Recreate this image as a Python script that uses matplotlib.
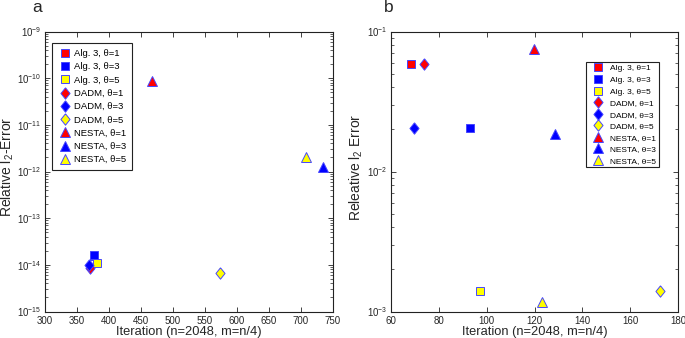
import numpy as np
import matplotlib
matplotlib.use("Agg")
import matplotlib.pyplot as plt

plt.rcParams['font.family'] = ['Liberation Sans', 'DejaVu Sans']
plt.rcParams['mathtext.fontset'] = 'custom'
plt.rcParams['mathtext.rm'] = 'Liberation Sans'
plt.rcParams['mathtext.it'] = 'Liberation Sans:italic'
plt.rcParams['mathtext.bf'] = 'Liberation Sans:bold'

# series labels (same order in both panels)
labels = ["Alg. 3, θ=1", "Alg. 3, θ=3", "Alg. 3, θ=5",
          "DADM, θ=1", "DADM, θ=3", "DADM, θ=5",
          "NESTA, θ=1", "NESTA, θ=3", "NESTA, θ=5"]

# panel a: n=2048, noiseless
iters_a = [376, 376, 381, 370, 369, 573, 467, 735, 709]
err_a = [1.55e-14, 1.6e-14, 1.1e-14, 8.4e-15, 1.0e-14, 6.7e-15, 8.8e-11, 1.25e-12, 2.0e-12]
xticks_a = [300, 350, 400, 450, 500, 550, 600, 650, 700, 750]

# panel b: n=2048, noisy
iters_b = [68.2, 92.9, 97.2, 74.0, 69.6, 172.5, 119.9, 128.6, 123.3]
err_b = [0.0586, 0.0206, 0.00141, 0.0586, 0.0206, 0.00141, 0.0754, 0.0184, 0.00117]
xticks_b = [60, 80, 100, 120, 140, 160, 180]

# matlab style diamond, a bit taller than wide
DIAMOND = [(0, 1), (0.8, 0), (0, -1), (-0.8, 0), (0, 1)]

FACE = ['#ff0000', '#0000ff', '#ffff00'] * 3
MARKERS = ['s'] * 3 + [DIAMOND] * 3 + ['^'] * 3
SIZES = [5.8] * 3 + [8.2] * 3 + [7.2] * 3
EDGE = '#4646ff'
TEXT = '#262626'


def draw_panel(ax, iters, errs, xticks):
    for x, y, lab, fc, m, ms in zip(iters, errs, labels, FACE, MARKERS, SIZES):
        ax.plot([x], [y], linestyle='none', marker=m, markersize=ms,
                markerfacecolor=fc, markeredgecolor=EDGE, markeredgewidth=0.7,
                label=lab)
    ax.set_yscale('log')
    ax.set_xticks(xticks)
    ax.set_xlim(xticks[0], xticks[-1])
    ax.tick_params(which='both', direction='in', top=True, right=True,
                   labelsize=7, colors='#222222', labelcolor=TEXT)
    ax.tick_params(axis='x', pad=3.5)
    ax.tick_params(axis='y', pad=2.5)
    ax.tick_params(which='major', length=3.5, width=0.6)
    ax.tick_params(which='minor', length=2, width=0.5)
    for s in ax.spines.values():
        s.set_linewidth(0.8)
        s.set_color('#222222')
    ax.set_xlabel("Iteration (n=2048, m=n/4)", fontsize=9.3, color=TEXT, labelpad=0)


fig = plt.figure(figsize=(6.85, 3.38), dpi=100)
ax_a = fig.add_axes([45 / 685, 26.5 / 338, 287.7 / 685, 280 / 338])
ax_b = fig.add_axes([391 / 685, 26.5 / 338, 287 / 685, 280 / 338])

draw_panel(ax_a, iters_a, err_a, xticks_a)
ax_a.set_ylim(1e-15, 1e-9)
ax_a.set_ylabel("Relative l$_2$-Error", fontsize=10, color=TEXT)
ax_a.yaxis.set_label_coords(-0.1, 0.516)
ax_a.legend(loc='upper left', bbox_to_anchor=(7 / 287.7, 1 - 11.5 / 280),
            borderaxespad=0, fontsize=6.8, numpoints=1, handlelength=1.4,
            handletextpad=0.3, labelspacing=0.45, borderpad=0.65,
            fancybox=False, edgecolor='#222222', framealpha=1)
ax_a.get_legend().get_frame().set_linewidth(0.8)

draw_panel(ax_b, iters_b, err_b, xticks_b)
ax_b.set_ylim(1e-3, 1e-1)
ax_b.set_ylabel("Releative l$_2$ Error", fontsize=10, color=TEXT)
ax_b.yaxis.set_label_coords(-0.092, 0.516)
ax_b.legend(loc='upper right', bbox_to_anchor=(1 - 19.5 / 287, 1 - 30.5 / 280),
            borderaxespad=0, fontsize=6.0, numpoints=1, handlelength=2.3,
            handletextpad=0.3, labelspacing=0.45, borderpad=0.3,
            fancybox=False, edgecolor='#222222', framealpha=1)
ax_b.get_legend().get_frame().set_linewidth(0.8)

fig.text(37 / 685, 1 - 7.5 / 338, "a", fontsize=12.5, ha='center', va='center', color=TEXT)
fig.text(389 / 685, 1 - 7.5 / 338, "b", fontsize=12.5, ha='center', va='center', color=TEXT)

fig.savefig("out.png", dpi=100)
